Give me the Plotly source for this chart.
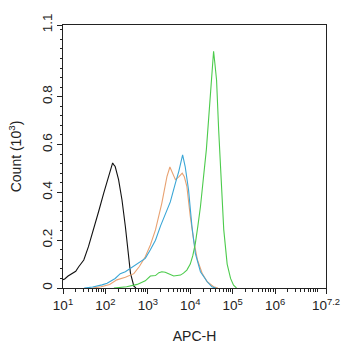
import plotly.graph_objects as go

# x positions are log10(APC-H); y = Count (10^3)
black_logx = [1.0, 1.04, 1.12, 1.21, 1.30, 1.37, 1.49, 1.60, 1.72, 1.84, 1.96, 2.08, 2.14, 2.17, 2.20, 2.23, 2.31, 2.39, 2.47, 2.53, 2.59, 2.67, 2.72]
black_y = [0.035, 0.038, 0.05, 0.06, 0.07, 0.089, 0.117, 0.173, 0.243, 0.32, 0.397, 0.466, 0.505, 0.523, 0.515, 0.508, 0.453, 0.369, 0.257, 0.145, 0.062, 0.008, 0.0]

orange_logx = [1.70, 1.90, 2.10, 2.27, 2.47, 2.67, 2.80, 2.94, 3.06, 3.18, 3.33, 3.45, 3.52, 3.58, 3.65, 3.73, 3.81, 3.86, 3.92, 4.00, 4.08, 4.17, 4.28, 4.40, 4.55, 4.65]
orange_y = [0.0, 0.005, 0.015, 0.034, 0.045, 0.06, 0.09, 0.131, 0.18, 0.243, 0.355, 0.466, 0.506, 0.48, 0.453, 0.465, 0.48, 0.465, 0.425, 0.30, 0.2, 0.117, 0.062, 0.026, 0.005, 0.0]

blue_logx = [1.50, 1.70, 1.92, 2.04, 2.23, 2.35, 2.47, 2.71, 2.85, 2.94, 3.06, 3.18, 3.30, 3.41, 3.53, 3.65, 3.73, 3.82, 3.88, 3.96, 4.04, 4.12, 4.24, 4.40, 4.51, 4.60]
blue_y = [0.0, 0.004, 0.013, 0.02, 0.04, 0.06, 0.068, 0.096, 0.115, 0.124, 0.16, 0.2, 0.26, 0.306, 0.36, 0.439, 0.488, 0.557, 0.508, 0.41, 0.257, 0.145, 0.068, 0.026, 0.005, 0.0]

green_logx = [2.20, 2.50, 2.75, 2.94, 3.06, 3.18, 3.26, 3.33, 3.41, 3.49, 3.61, 3.77, 3.84, 3.92, 4.00, 4.06, 4.12, 4.18, 4.24, 4.31, 4.38, 4.43, 4.48, 4.52, 4.55, 4.58, 4.62, 4.67, 4.73, 4.79, 4.87, 4.95, 5.02, 5.09]
green_y = [0.0, 0.005, 0.015, 0.030, 0.050, 0.052, 0.064, 0.068, 0.066, 0.060, 0.05, 0.054, 0.062, 0.075, 0.10, 0.135, 0.187, 0.26, 0.34, 0.46, 0.58, 0.70, 0.83, 0.93, 0.99, 0.94, 0.87, 0.66, 0.45, 0.243, 0.10, 0.04, 0.012, 0.0]

x_tick_exponents = [1, 2, 3, 4, 5, 6, 7.2]
x_tick_labels = ["10<sup>1</sup>", "10<sup>2</sup>", "10<sup>3</sup>", "10<sup>4</sup>",
                 "10<sup>5</sup>", "10<sup>6</sup>", "10<sup>7.2</sup>"]
y_tick_vals = [0, 0.2, 0.4, 0.6, 0.8, 1.1]
y_tick_labels = ["0", "0.2", "0.4", "0.6", "0.8", "1.1"]

series = [
    (black_logx, black_y, "#111111"),
    (orange_logx, orange_y, "#E8A272"),
    (blue_logx, blue_y, "#3AA6D6"),
    (green_logx, green_y, "#4CCB4C"),
]

fig = go.Figure()
for lx, ys, col in series:
    fig.add_trace(go.Scatter(
        x=[10 ** v for v in lx], y=ys, mode="lines",
        line=dict(color=col, width=1.1), showlegend=False,
    ))

font = dict(family="Liberation Sans, Arial, sans-serif", size=13, color="#222222")

fig.update_layout(
    width=342, height=350,
    margin=dict(l=63, r=16, t=25, b=62),
    paper_bgcolor="white", plot_bgcolor="white",
    font=font,
)
fig.update_xaxes(
    type="log", range=[1, 7.2], automargin=False,
    tickvals=[10 ** v for v in x_tick_exponents], ticktext=x_tick_labels,
    ticks="outside", ticklen=5, tickwidth=1, tickcolor="#222",
    minor=dict(ticks="outside", ticklen=2.5, tickcolor="#222", dtick="D1"),
    showline=True, linecolor="#222", linewidth=1, mirror=True,
    showgrid=False, zeroline=False,
    title=dict(text="APC-H", standoff=18, font=dict(size=14)),
    tickfont=dict(size=13.5),
)
fig.update_yaxes(
    range=[0, 1.1], automargin=False,
    tickvals=y_tick_vals, ticktext=y_tick_labels, tickangle=-90,
    ticks="outside", ticklen=5, tickwidth=1, tickcolor="#222",
    minor=dict(ticks="outside", ticklen=2.5, tickcolor="#222", dtick=0.04, tick0=0),
    showline=True, linecolor="#222", linewidth=1, mirror=True,
    showgrid=False, zeroline=False,
    title=dict(text="Count (10<sup>3</sup>)", standoff=14, font=dict(size=14)),
    tickfont=dict(size=13.5),
)

fig.write_html("out.html")
